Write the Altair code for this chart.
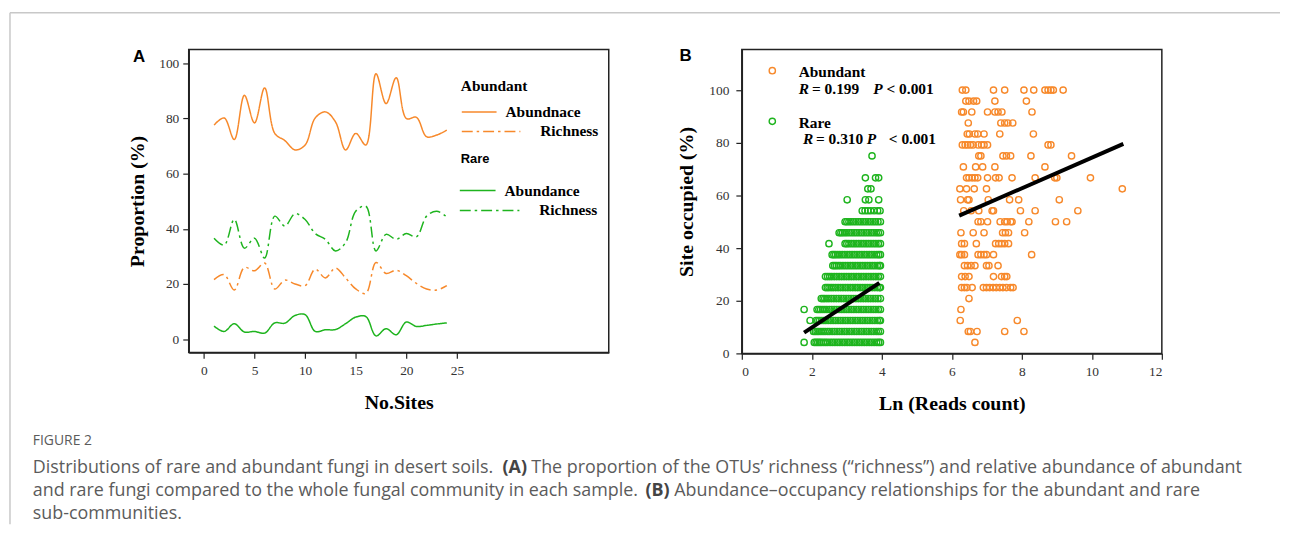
import altair as alt
import pandas as pd

ORANGE = "#f7892b"
GREEN = "#1eb41e"
SERIF = "Liberation Serif"
SANS = "Liberation Sans"
CAP = "Open Sans"

# ---------------- Panel A data ----------------
sites = list(range(1, 25))
abund_abundance = [77.6, 80.2, 72.4, 88.4, 78.4, 91.1, 74.6, 72.0, 68.6, 70.4, 80.2, 82.4,
                   78.8, 68.6, 74.6, 70.4, 96.2, 85.4, 94.8, 80.0, 80.4, 73.4, 74.0, 75.8]
abund_richness = [21.6, 23.4, 17.8, 26.0, 24.8, 27.6, 18.2, 21.4, 20.0, 19.4, 25.4, 22.2,
                  25.8, 22.2, 18.2, 16.6, 27.8, 23.8, 25.0, 23.0, 20.2, 18.2, 17.8, 19.4]
rare_abundance = [4.7, 2.8, 5.6, 2.6, 2.8, 2.2, 5.9, 5.8, 8.6, 8.9, 2.8, 3.4,
                  3.5, 5.6, 8.0, 8.2, 1.2, 3.8, 1.6, 6.2, 4.6, 5.0, 5.5, 5.9]
rare_richness = [36.6, 34.1, 43.4, 33.0, 36.6, 29.4, 44.6, 41.0, 45.5, 43.4, 38.3, 36.2,
                 32.0, 35.0, 46.4, 48.2, 32.0, 38.0, 36.2, 38.3, 37.1, 44.6, 46.4, 44.3]

# ---------------- Panel B data ----------------
rare_x = {
    4.17: "1.78 2.07 2.12 2.17 2.22 2.27 2.33 2.39 2.45 2.52 2.59 2.66 2.73 2.80 2.87 2.94 3.01 3.08 3.15 3.22 3.29 3.36 3.43 3.50 3.57 3.64 3.71 3.78 3.85 3.91 3.96",
    8.33: "2.05 2.10 2.15 2.20 2.26 2.32 2.38 2.45 2.51 2.58 2.65 2.72 2.79 2.86 2.93 3.00 3.07 3.14 3.21 3.28 3.35 3.42 3.49 3.56 3.63 3.70 3.77 3.84 3.90 3.96",
    12.5: "1.95 2.12 2.17 2.22 2.28 2.34 2.40 2.47 2.54 2.61 2.68 2.75 2.82 2.89 2.96 3.03 3.10 3.17 3.24 3.31 3.38 3.45 3.52 3.59 3.66 3.73 3.80 3.87 3.93 3.96",
    16.67: "1.78 2.15 2.20 2.25 2.31 2.37 2.43 2.50 2.57 2.64 2.71 2.78 2.85 2.92 2.99 3.06 3.13 3.20 3.27 3.34 3.41 3.48 3.55 3.62 3.69 3.76 3.83 3.90 3.96",
    20.83: "2.27 2.32 2.37 2.43 2.49 2.56 2.63 2.70 2.77 2.84 2.91 2.98 3.05 3.12 3.19 3.26 3.33 3.40 3.47 3.54 3.61 3.68 3.75 3.82 3.89 3.96",
    25.0: "2.39 2.44 2.49 2.55 2.61 2.68 2.75 2.82 2.89 2.96 3.03 3.10 3.17 3.24 3.31 3.38 3.45 3.52 3.59 3.66 3.73 3.80 3.87 3.93 3.96",
    29.17: "2.39 2.45 2.51 2.57 2.64 2.71 2.78 2.85 2.92 2.99 3.06 3.13 3.20 3.27 3.34 3.41 3.48 3.55 3.62 3.69 3.76 3.83 3.90 3.96",
    33.33: "2.60 2.65 2.70 2.76 2.82 2.89 2.96 3.03 3.10 3.17 3.24 3.31 3.38 3.45 3.52 3.59 3.66 3.73 3.80 3.87 3.93 3.96",
    37.5: "2.58 2.63 2.68 2.74 2.80 2.87 2.94 3.01 3.08 3.15 3.22 3.29 3.36 3.43 3.50 3.57 3.64 3.71 3.78 3.85 3.91 3.96",
    41.67: "2.49 2.95 3.00 3.06 3.13 3.20 3.27 3.34 3.41 3.48 3.55 3.62 3.69 3.76 3.83 3.90 3.96",
    45.83: "2.78 2.83 2.88 2.94 3.00 3.07 3.14 3.21 3.28 3.35 3.42 3.49 3.56 3.63 3.70 3.77 3.84 3.90 3.96",
    50.0: "2.95 3.00 3.06 3.12 3.19 3.26 3.33 3.40 3.47 3.54 3.61 3.68 3.75 3.82 3.89 3.96",
    54.17: "3.44 3.52 3.60 3.68 3.78 3.88 3.95",
    58.33: "3.01 3.53 3.63 3.91",
    62.5: "3.60 3.69",
    66.67: "3.53 3.82 3.91",
    75.0: "3.72",
}

abund_x = {
    100.0: "6.30 6.40 7.19 7.51 8.06 8.34 8.66 8.75 8.83 8.90 9.18",
    95.83: "6.40 6.49 6.62 6.71 7.23 8.13",
    91.67: "6.28 6.33 6.57 7.02 7.23 7.32 7.43 8.29",
    87.5: "6.47 7.40 7.51 7.60 7.74",
    83.33: "6.44 6.50 6.66 6.74 6.92 7.37 8.33",
    79.17: "6.30 6.38 6.45 6.53 6.61 6.75 6.85 6.92 7.02 8.75 8.83",
    75.0: "6.77 6.83 7.46 7.56 7.68 8.26 9.42",
    70.83: "6.33 6.68 6.88 7.23 8.66",
    66.67: "6.42 6.49 6.58 6.66 6.74 7.02 7.25 7.35 7.72 8.38 8.94 9.00 9.96",
    62.5: "6.23 6.42 6.64 6.99 10.87",
    58.33: "6.25 6.45 6.49 7.04 7.65 7.91 9.07",
    54.17: "6.34 6.55 6.77 7.15 7.19 7.96 8.38 9.60",
    50.0: "6.75 6.83 7.02 7.38 7.51 7.58 7.68 7.72 8.20 8.96 9.28",
    45.83: "6.26 6.61 6.92 7.45 7.53 7.62 8.08",
    41.67: "6.28 6.36 6.70 7.25 7.34 7.42 7.51 7.62",
    37.5: "6.23 6.28 6.36 6.75 6.83 6.92 6.99 7.19 8.28",
    33.33: "6.36 6.45 6.55 6.66 6.99 7.06 7.32",
    29.17: "6.28 6.38 6.49 7.19 7.42 7.51 7.57",
    25.0: "6.28 6.36 6.43 6.58 6.90 6.99 7.08 7.18 7.27 7.37 7.46 7.56 7.68 7.75",
    20.83: "6.49",
    16.67: "6.26",
    12.5: "6.24 7.87",
    8.33: "6.47 6.53 6.72 7.51 8.06",
    4.17: "6.66",
}

fit_group = ["Rare", "Rare", "Abundant", "Abundant"]
fit_x = [1.78, 3.93, 6.21, 10.90]
fit_y = [7.9, 26.8, 52.3, 79.6]

# ---------------- tables ----------------
rowsA = []
for name, grp, kind, vals in [
    ("Abundant abundance", "Abundant", "Abundance", abund_abundance),
    ("Abundant richness", "Abundant", "Richness", abund_richness),
    ("Rare abundance", "Rare", "Abundance", rare_abundance),
    ("Rare richness", "Rare", "Richness", rare_richness),
]:
    for s, v in zip(sites, vals):
        rowsA.append({"series": name, "group": grp, "kind": kind, "site": s, "prop": v})
dfA = pd.DataFrame(rowsA)

rowsB = []
for grp, table in [("Rare", rare_x), ("Abundant", abund_x)]:
    for occ, xs in table.items():
        for xv in xs.split():
            rowsB.append({"group": grp, "lnreads": float(xv), "occ": occ})
dfB = pd.DataFrame(rowsB)
dfFit = pd.DataFrame({"group": fit_group, "lnreads": fit_x, "occ": fit_y})

one = alt.Data(values=[{"k": 0}])


def label(s, x, y, size=16, weight="bold", style="normal", font=SERIF, color="black", align="left"):
    return alt.Chart(one).mark_text(
        text=s, align=align, baseline="middle", font=font, fontSize=size,
        fontWeight=weight, fontStyle=style, color=color
    ).encode(x=alt.value(x), y=alt.value(y))


def hrule(x1, x2, y, color, width, dash=None):
    kw = dict(color=color, strokeWidth=width)
    if dash:
        kw["strokeDash"] = dash
    return alt.Chart(one).mark_rule(**kw).encode(x=alt.value(x1), x2=alt.value(x2), y=alt.value(y))


def vrule(x, y1, y2, color, width):
    return alt.Chart(one).mark_rule(color=color, strokeWidth=width).encode(
        x=alt.value(x), y=alt.value(y1), y2=alt.value(y2))


DASHDOT = [11, 4, 2.5, 4]


def axis(values, title, pad, title_pad):
    return alt.Axis(
        values=values, title=title, grid=False,
        labelFont=SERIF, labelFontSize=13.5, labelColor="#333", labelPadding=pad,
        tickColor="#222", tickSize=6, tickWidth=1.2,
        domainColor="#222", domainWidth=1.5,
        titleFont=SERIF, titleFontSize=20, titleFontWeight="bold", titleColor="black",
        titlePadding=title_pad,
    )


# ---------------- Panel A ----------------
WA, HA = 423, 305
lines = alt.Chart(dfA).mark_line(interpolate="catmull-rom", strokeWidth=1.5).encode(
    x=alt.X("site:Q", scale=alt.Scale(domain=[-1.5, 40], nice=False, zero=False),
            axis=axis([0, 5, 10, 15, 20, 25], "No.Sites", 5.5, 15)),
    y=alt.Y("prop:Q", scale=alt.Scale(domain=[-4.8, 105], nice=False, zero=False),
            axis=axis([0, 20, 40, 60, 80, 100], "Proportion (%)", 4, 11)),
    color=alt.Color("group:N", scale=alt.Scale(domain=["Abundant", "Rare"], range=[ORANGE, GREEN]), legend=None),
    strokeDash=alt.StrokeDash("kind:N", scale=alt.Scale(domain=["Abundance", "Richness"], range=[[1, 0], DASHDOT]), legend=None),
    detail="series:N",
)

legendA = [
    label("Abundant", 274, 37, size=15.5),
    hrule(275, 310, 63, ORANGE, 1.5),
    label("Abundnace", 319, 63, size=15.5),
    hrule(275, 334, 82.5, ORANGE, 1.5, DASHDOT),
    label("Richness", 354, 82.5, size=15.5),
    label("Rare", 274, 110, size=13, font=SANS),
    hrule(273, 309, 142, GREEN, 1.5),
    label("Abundance", 318, 142, size=15.5),
    hrule(273, 333, 162, GREEN, 1.5, DASHDOT),
    label("Richness", 353, 162, size=15.5),
    label("A", -56, 8, size=17, font=SANS),
]

# page frame + caption (relative to panel A plot origin at page (189, 47))
CAPC = "#5b5b5b"
CS = 18
decor = [
    hrule(-180, 1099, -37, "#c8c8c8", 1.5),
    vrule(-180, -37, 478, "#c8c8c8", 1.5),
    label("FIGURE 2", -157, 394, size=14, weight="normal", font=CAP, color=CAPC),
    label("Distributions of rare and abundant fungi in desert soils.", -157, 421.5, size=CS, weight="normal", font=CAP, color=CAPC),
    label("(A)", 316, 421.5, size=CS, weight="bold", font=CAP, color="#444"),
    label("The proportion of the OTUs\u2019 richness (\u201crichness\u201d) and relative abundance of abundant", 345, 421.5, size=CS, weight="normal", font=CAP, color=CAPC),
    label("and rare fungi compared to the whole fungal community in each sample.", -157, 444.5, size=CS, weight="normal", font=CAP, color=CAPC),
    label("(B)", 460, 444.5, size=CS, weight="bold", font=CAP, color="#444"),
    label("Abundance\u2013occupancy relationships for the abundant and rare", 489, 444.5, size=CS, weight="normal", font=CAP, color=CAPC),
    label("sub-communities.", -157, 467.5, size=CS, weight="normal", font=CAP, color=CAPC),
]

panelA = alt.layer(lines, *legendA, *decor).properties(width=WA, height=HA)

# ---------------- Panel B ----------------
WB, HB = 423, 306
xB = alt.X("lnreads:Q", scale=alt.Scale(domain=[0, 12], nice=False, zero=False),
           axis=axis([0, 2, 4, 6, 8, 10, 12], "Ln (Reads count)", 5.5, 15))
yB = alt.Y("occ:Q", scale=alt.Scale(domain=[0, 115.4], nice=False, zero=False),
           axis=axis([0, 20, 40, 60, 80, 100], "Site occupied (%)", 7, 12))
colB = alt.Color("group:N", scale=alt.Scale(domain=["Abundant", "Rare"], range=[ORANGE, GREEN]), legend=None)

PT = dict(shape="circle", filled=False, size=40, strokeWidth=1.4, opacity=1)
points = alt.Chart(dfB).mark_point(**PT).encode(x=xB, y=yB, color=colB)
fits = alt.Chart(dfFit).mark_line(color="black", strokeWidth=4).encode(
    x=xB, y=yB, detail="group:N")

legendB = [
    alt.Chart(one).mark_point(color=ORANGE, **PT).encode(x=alt.value(30.7), y=alt.value(21.3)),
    label("Abundant", 57.3, 22.3, size=15.5),
    label("R", 57.3, 39.7, size=15.5, style="italic"),
    label("= 0.199", 70.7, 39.7, size=15.5),
    label("P", 132.3, 39.7, size=15.5, style="italic"),
    label("< 0.001", 145.7, 39.7, size=15.5),
    alt.Chart(one).mark_point(color=GREEN, **PT).encode(x=alt.value(30.7), y=alt.value(72.3)),
    label("Rare", 57.3, 73.7, size=15.5),
    label("R", 61.7, 90.3, size=15.5, style="italic"),
    label("= 0.310", 74.7, 90.3, size=15.5),
    label("P", 125.7, 90.3, size=15.5, style="italic"),
    label("< 0.001", 148, 90.3, size=15.5),
    label("B", -62.7, 7, size=17, font=SANS),
]

panelB = alt.layer(points, fits, *legendB).properties(width=WB, height=HB)

chart = alt.hconcat(panelA, panelB, spacing=134, bounds="flush").properties(
    padding={"left": 0, "top": 1, "right": 0, "bottom": 0}
).configure_view(stroke="#222", strokeWidth=1.5)

chart.save("out.html", embed_options={"renderer": "svg", "actions": False})
